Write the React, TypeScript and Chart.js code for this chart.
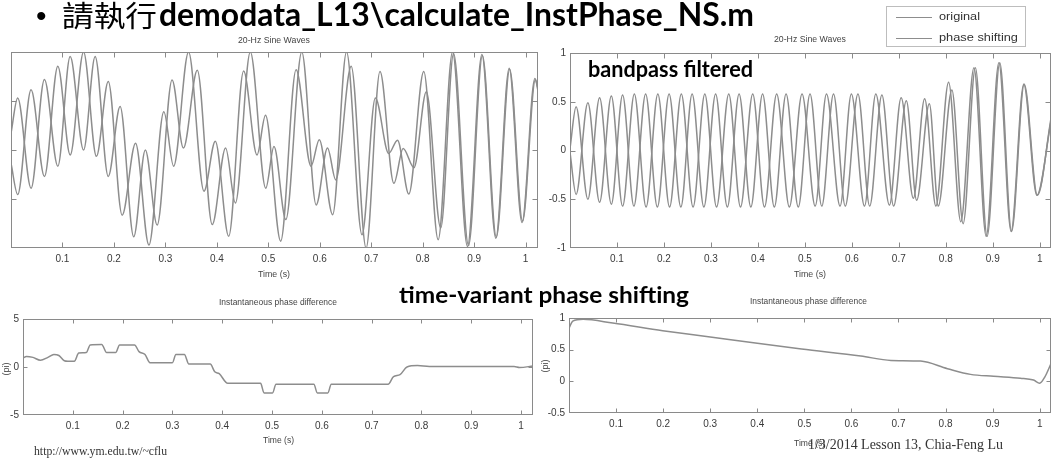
import React, { useEffect, useLayoutEffect, useRef } from 'react';
import { Chart, registerables } from 'chart.js';

Chart.register(...registerables);

// ---------------- data ----------------
// Top-left: "20-Hz Sine Waves" (raw), extrema of each trace
const tlOriginalTime = [0, 0.013, 0.039, 0.065, 0.091, 0.115, 0.141, 0.1635, 0.189, 0.212, 0.2385, 0.261, 0.284, 0.313, 0.335, 0.362, 0.391, 0.417, 0.436, 0.465, 0.495, 0.511, 0.534, 0.565, 0.593, 0.615, 0.631, 0.661, 0.69, 0.717, 0.744, 0.762, 0.783, 0.807, 0.835, 0.86, 0.889, 0.916, 0.943, 0.969, 0.994, 1.019, 1.024];
const tlOriginalValue = [0.34, 1.06, -0.78, 1.44, -0.33, 1.91, 0.0, 1.91, -0.54, 0.89, -1.77, 0.0, -1.53, 1.43, 0.04, 1.63, -1.52, 0.04, -1.08, 2.0, -0.78, 0.07, -1.42, 2.0, -1.12, 0.04, -0.61, 1.71, -2.0, 1.6, -0.68, 0.03, -0.36, 1.19, -1.59, 1.97, -1.95, 1.93, -1.78, 1.65, -1.45, 1.44, 1.2];
const tlShiftedTime = [0, 0.013, 0.039, 0.065, 0.091, 0.115, 0.141, 0.166, 0.189, 0.216, 0.242, 0.268, 0.297, 0.316, 0.345, 0.375, 0.397, 0.423, 0.452, 0.478, 0.4945, 0.524, 0.554, 0.583, 0.599, 0.625, 0.652, 0.682, 0.708, 0.734, 0.751, 0.773, 0.802, 0.83, 0.858, 0.887, 0.915, 0.942, 0.968, 0.993, 1.018, 1.024];
const tlShiftedValue = [-0.27, -0.91, 1.23, -0.54, 1.71, -0.1, 2.0, -0.13, 1.4, -1.33, 0.14, -1.94, 0.78, -0.33, 2.0, -0.84, 0.18, -1.76, 1.61, -0.1, 0.71, -1.86, 1.64, -0.33, 0.21, -1.32, 2.0, -1.73, 1.06, -0.07, 0.2, -0.9, 1.6, -1.83, 2.0, -1.97, 1.95, -1.8, 1.67, -1.48, 1.46, 1.25];

// Top-right: bandpass filtered, extrema of each trace
const trOriginalTime = [0, 0.013, 0.038, 0.063, 0.088, 0.112, 0.136, 0.161, 0.186, 0.211, 0.236, 0.26, 0.285, 0.31, 0.335, 0.36, 0.385, 0.41, 0.435, 0.46, 0.486, 0.511, 0.536, 0.561, 0.586, 0.613, 0.638, 0.664, 0.689, 0.716, 0.738, 0.765, 0.784, 0.813, 0.837, 0.863, 0.888, 0.915, 0.94, 0.967, 0.995, 1.024];
const trOriginalValue = [0.02, 0.45, -0.5, 0.54, -0.55, 0.57, -0.57, 0.58, -0.58, 0.58, -0.58, 0.58, -0.58, 0.58, -0.58, 0.58, -0.58, 0.58, -0.58, 0.58, -0.58, 0.58, -0.57, 0.58, -0.57, 0.58, -0.57, 0.57, -0.57, 0.51, -0.51, 0.48, -0.57, 0.62, -0.75, 0.85, -0.88, 0.9, -0.83, 0.68, -0.46, 0.33];
const trShiftedTime = [0, 0.013, 0.038, 0.063, 0.088, 0.112, 0.137, 0.162, 0.187, 0.212, 0.237, 0.262, 0.287, 0.312, 0.338, 0.363, 0.389, 0.414, 0.44, 0.467, 0.494, 0.522, 0.546, 0.575, 0.599, 0.627, 0.651, 0.68, 0.705, 0.731, 0.755, 0.779, 0.806, 0.832, 0.86, 0.886, 0.913, 0.939, 0.966, 0.994, 1.024];
const trShiftedValue = [-0.02, -0.45, 0.49, -0.53, 0.56, -0.57, 0.58, -0.58, 0.58, -0.58, 0.58, -0.58, 0.58, -0.58, 0.58, -0.58, 0.58, -0.58, 0.58, -0.58, 0.58, -0.57, 0.58, -0.57, 0.58, -0.57, 0.58, -0.56, 0.54, -0.49, 0.53, -0.57, 0.7, -0.73, 0.85, -0.88, 0.9, -0.83, 0.68, -0.46, 0.3];

// Bottom-left: instantaneous phase difference (raw)
const blPhaseTime = [0, 0.007, 0.02, 0.035, 0.05, 0.062, 0.072, 0.083, 0.09, 0.103, 0.112, 0.127, 0.135, 0.158, 0.168, 0.186, 0.194, 0.224, 0.233, 0.245, 0.255, 0.3, 0.307, 0.324, 0.333, 0.376, 0.385, 0.394, 0.411, 0.477, 0.484, 0.501, 0.508, 0.584, 0.591, 0.612, 0.619, 0.733, 0.744, 0.757, 0.771, 0.792, 0.816, 0.986, 0.997, 1.024];
const blPhaseValue = [0.95, 1.1, 1.0, 0.7, 1.0, 1.3, 1.2, 0.65, 0.6, 0.6, 1.45, 1.5, 2.3, 2.35, 1.5, 1.5, 2.3, 2.3, 1.6, 1.3, 0.45, 0.45, 1.3, 1.3, 0.3, 0.3, -0.5, -0.7, -1.7, -1.7, -2.7, -2.7, -1.8, -1.8, -2.7, -2.7, -1.8, -1.8, -1.0, -0.8, 0.0, 0.15, 0.05, 0.05, -0.05, 0.1];

// Bottom-right: instantaneous phase difference (bandpass)
const brPhaseTime = [0, 0.008, 0.03, 0.093, 0.199, 0.3, 0.4, 0.494, 0.62, 0.684, 0.747, 0.804, 0.853, 0.902, 0.959, 0.987, 1.0, 1.011, 1.024];
const brPhaseValue = [0.84, 0.95, 0.98, 0.92, 0.8, 0.7, 0.6, 0.51, 0.4, 0.33, 0.32, 0.2, 0.11, 0.08, 0.05, 0.02, -0.03, 0.07, 0.28];

const legendLabels = ['original', 'phase shifting'];
const topTitle = '20-Hz Sine Waves';
const bottomTitle = 'Instantaneous phase difference';
const xLabel = 'Time (s)';
const yLabel = '(pi)';

// ---------------- styles ----------------
const LINE = '#8d8d8d';
const BOX = '#8a8a8a';
const TICK_COLOR = '#3a3a3a';
const NARROW = "'Liberation Sans Narrow', 'Liberation Sans', Arial, sans-serif";
const BOLD = "Lato, 'Open Sans', sans-serif";
const SERIF = "'Liberation Serif', 'Times New Roman', serif";
const CJK = "'Noto Sans CJK TC', 'Noto Sans CJK SC', sans-serif";

const matlabBox = {
  id: 'matlabBox',
  afterDatasetsDraw(chart: any, _args: any, opts: any) {
    const { ctx, chartArea } = chart;
    const xs = chart.scales.x;
    const ys = chart.scales.y;
    const L = opts.tickLen ?? 5;
    const l = Math.round(chartArea.left) + 0.5;
    const r = Math.round(chartArea.right) - 0.5;
    const t = Math.round(chartArea.top) + 0.5;
    const b = Math.round(chartArea.bottom) - 0.5;
    ctx.save();
    ctx.strokeStyle = BOX;
    ctx.lineWidth = 1;
    ctx.strokeRect(l, t, r - l, b - t);
    ctx.beginPath();
    for (const tk of xs.ticks) {
      if (tk.value <= xs.min + 1e-9 || tk.value >= xs.max - 1e-9) continue;
      const x = Math.round(xs.getPixelForValue(tk.value)) + 0.5;
      ctx.moveTo(x, b); ctx.lineTo(x, b - L);
      ctx.moveTo(x, t); ctx.lineTo(x, t + L);
    }
    for (const tk of ys.ticks) {
      if (tk.value <= ys.min + 1e-9 || tk.value >= ys.max - 1e-9) continue;
      const y = Math.round(ys.getPixelForValue(tk.value)) + 0.5;
      ctx.moveTo(l, y); ctx.lineTo(l + L, y);
      ctx.moveTo(r, y); ctx.lineTo(r - L, y);
    }
    ctx.stroke();
    ctx.restore();
  },
};

interface Series { t: number[]; v: number[]; }
interface PlotProps {
  left: number; top: number; width: number; height: number;
  area: [number, number, number, number];
  yMin: number; yMax: number; yStep: number; showY: boolean;
  series: Series[]; tickLen: number;
}

function Plot(p: PlotProps) {
  const ref = useRef<HTMLCanvasElement>(null);
  useEffect(() => {
    const [al, at, ar, ab] = p.area;
    const yW = al - p.left;
    const padTop = at - p.top;
    const padRight = p.left + p.width - ar;
    const xH = p.top + p.height - ab;
    const tickFont = { family: NARROW, size: 10 };
    const chart = new Chart(ref.current as HTMLCanvasElement, {
      type: 'line',
      data: {
        datasets: p.series.map((s) => ({
          data: s.t.map((x, i) => ({ x, y: s.v[i] })),
          borderColor: LINE,
          borderWidth: 1.5,
          pointRadius: 0,
          fill: false,
          cubicInterpolationMode: 'monotone' as const,
        })),
      },
      options: {
        animation: false,
        responsive: false,
        maintainAspectRatio: false,
        events: [],
        layout: { padding: { top: padTop, right: padRight, left: 0, bottom: 0 } },
        plugins: {
          legend: { display: false },
          tooltip: { enabled: false },
          title: { display: false },
          matlabBox: { tickLen: p.tickLen },
        } as any,
        scales: {
          x: {
            type: 'linear',
            min: 0,
            max: 1.024,
            grid: { display: false, drawTicks: false },
            border: { display: false },
            ticks: {
              stepSize: 0.1,
              includeBounds: false,
              autoSkip: false,
              maxRotation: 0,
              maxTicksLimit: 20,
              padding: 5,
              color: TICK_COLOR,
              font: tickFont,
              callback: (v: any) => {
                const n = Math.round(Number(v) * 10) / 10;
                return n <= 0 ? '' : String(n);
              },
            },
            afterFit: (s: any) => { s.height = xH; },
          },
          y: {
            type: 'linear',
            min: p.yMin,
            max: p.yMax,
            grid: { display: false, drawTicks: false },
            border: { display: false },
            ticks: {
              stepSize: p.yStep,
              display: p.showY,
              padding: 4,
              color: TICK_COLOR,
              font: tickFont,
              callback: (v: any) => String(Math.round(Number(v) * 100) / 100),
            },
            afterFit: (s: any) => { s.width = yW; },
          },
        },
      } as any,
      plugins: [matlabBox],
    });
    return () => chart.destroy();
  }, []);
  return (
    <canvas
      ref={ref}
      width={p.width}
      height={p.height}
      style={{ position: 'absolute', left: p.left, top: p.top, width: p.width, height: p.height }}
    />
  );
}

interface TxtProps {
  text: string; x: number; top: number; w: number; size: number;
  family: string; weight?: number; color?: string;
}
function FitText({ text, x, top, w, size, family, weight = 400, color = '#000' }: TxtProps) {
  const ref = useRef<HTMLSpanElement>(null);
  useLayoutEffect(() => {
    const el = ref.current;
    if (!el) return;
    const fit = () => {
      el.style.transform = 'none';
      const nat = el.getBoundingClientRect().width;
      if (nat > 0) el.style.transform = `scaleX(${w / nat})`;
    };
    fit();
    const fonts: any = (document as any).fonts;
    if (fonts && fonts.ready) fonts.ready.then(fit);
  }, [text, w]);
  return (
    <span
      ref={ref}
      style={{
        position: 'absolute', left: x, top, whiteSpace: 'nowrap', fontSize: size,
        fontFamily: family, fontWeight: weight, color, lineHeight: 1, transformOrigin: 'left top',
      }}
    >
      {text}
    </span>
  );
}

function Centered({ text, cx, cy, w, size, family = NARROW, color = '#444' }: any) {
  return <FitText text={text} x={cx - w / 2} top={cy - size * 0.55} w={w} size={size} family={family} color={color} />;
}

function Rotated({ text, cx, cy }: { text: string; cx: number; cy: number }) {
  return (
    <span
      style={{
        position: 'absolute', left: cx - 12, top: cy - 5, width: 24, textAlign: 'center',
        fontSize: 9, lineHeight: '10px', fontFamily: NARROW, color: '#444', transform: 'rotate(-90deg)',
        whiteSpace: 'nowrap',
      }}
    >
      {text}
    </span>
  );
}

export default function App() {
  return (
    <div
      style={{
        position: 'absolute', left: 0, top: 0, width: 1056, height: 459,
        background: '#fff', overflow: 'hidden',
      }}
    >
      <Plot
        left={0} top={30} width={545} height={255} area={[11, 52, 538, 248]}
        yMin={-2} yMax={2} yStep={1} showY={false} tickLen={5}
        series={[{ t: tlOriginalTime, v: tlOriginalValue }, { t: tlShiftedTime, v: tlShiftedValue }]}
      />
      <Plot
        left={530} top={30} width={526} height={255} area={[570, 53, 1051, 248]}
        yMin={-1} yMax={1} yStep={0.5} showY={true} tickLen={5}
        series={[{ t: trOriginalTime, v: trOriginalValue }, { t: trShiftedTime, v: trShiftedValue }]}
      />
      <Plot
        left={0} top={300} width={545} height={140} area={[23, 319, 533, 415]}
        yMin={-5} yMax={5} yStep={5} showY={true} tickLen={4}
        series={[{ t: blPhaseTime, v: blPhaseValue }]}
      />
      <Plot
        left={538} top={300} width={518} height={140} area={[569, 318, 1051, 413]}
        yMin={-0.5} yMax={1} yStep={0.5} showY={true} tickLen={4}
        series={[{ t: brPhaseTime, v: brPhaseValue }]}
      />

      {/* heading line */}
      <span style={{ position: 'absolute', left: 36, top: 1, fontSize: 30, lineHeight: 1, fontFamily: "'Liberation Sans', Arial, sans-serif" }}>•</span>
      <FitText text="請執行" x={62} top={0} w={95} size={29} family={CJK} />
      <FitText text="demodata_L13\calculate_InstPhase_NS.m" x={159} top={-2} w={595} size={32} family={BOLD} weight={700} />

      <FitText text="bandpass filtered" x={588} top={57.5} w={165} size={22} family={BOLD} weight={700} />
      <FitText text="time-variant phase shifting" x={399} top={283.5} w={290} size={22} family={BOLD} weight={700} />

      {/* titles and axis labels */}
      <Centered text={topTitle} cx={274} cy={40} w={72} size={9.5} />
      <Centered text={topTitle} cx={810} cy={39} w={72} size={9.5} />
      <Centered text={xLabel} cx={274} cy={274} w={32} size={9.5} />
      <Centered text={xLabel} cx={810} cy={274} w={32} size={9.5} />
      <Centered text={bottomTitle} cx={278} cy={303} w={118} size={9} />
      <Centered text={bottomTitle} cx={808} cy={302} w={117} size={9} />
      <Centered text={xLabel} cx={278} cy={440} w={31} size={9.5} />
      <Centered text={xLabel} cx={809} cy={443} w={31} size={9.5} />
      <Rotated text={yLabel} cx={6} cy={369} />
      <Rotated text={yLabel} cx={545} cy={366} />

      {/* legend */}
      <div style={{ position: 'absolute', left: 886, top: 6, width: 140, height: 41, border: '1px solid #bdbdbd', background: '#fff', boxSizing: 'border-box' }} />
      <div style={{ position: 'absolute', left: 896, top: 17, width: 36, height: 1, background: LINE }} />
      <div style={{ position: 'absolute', left: 896, top: 38, width: 36, height: 1, background: LINE }} />
      <FitText text={legendLabels[0]} x={939} top={17 - 6.5} w={41} size={11} family={"'Liberation Sans', Arial, sans-serif"} color="#333" />
      <FitText text={legendLabels[1]} x={939} top={38 - 6.5} w={79} size={11} family={"'Liberation Sans', Arial, sans-serif"} color="#333" />

      {/* footers */}
      <FitText text="http://www.ym.edu.tw/~cflu" x={34} top={452 - 7} w={133} size={12} family={SERIF} color="#333" />
      <FitText text="1/3/2014 Lesson 13, Chia-Feng Lu" x={808} top={446 - 8} w={195} size={14} family={SERIF} color="#333" />
    </div>
  );
}
